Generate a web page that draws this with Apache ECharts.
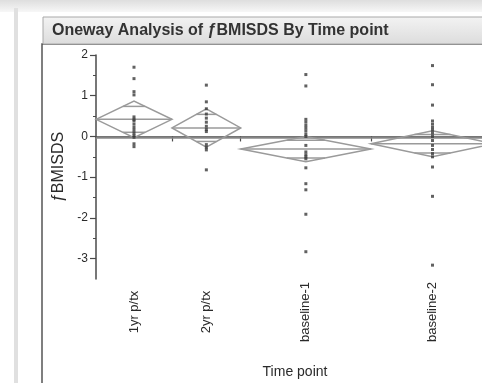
<!DOCTYPE html>
<html>
<head>
<meta charset="utf-8">
<script src="https://cdn.jsdelivr.net/npm/echarts@6/dist/echarts.min.js"></script>
<style>html,body{margin:0;padding:0;background:#fff;}#c{width:482px;height:383px;}</style>
</head>
<body>
<div id="c"></div>
<script>
// ---- data ----
const categories = ['1yr p/tx', '2yr p/tx', 'baseline-1', 'baseline-2'];
const groupN = [21, 19, 36, 34];                 // group widths (sample size scale)
const groupMeans = [0.42, 0.21, -0.31, -0.18];
const ciHalf = [0.45, 0.47, 0.31, 0.32];
const grandMean = -0.04;
const pts1yr = [1.70, 1.42, 1.10, 1.02, 0.48, 0.42, 0.38, 0.30, 0.22, 0.15, 0.08, 0.02, -0.02, -0.18, -0.25];
const pts2yr = [1.26, 0.85, 0.68, 0.55, 0.45, 0.35, 0.25, 0.17, 0.12, -0.20, -0.27, -0.33, -0.82];
const ptsBase1 = [1.52, 1.24, 0.42, 0.35, 0.27, 0.20, 0.13, 0.05, 0.0, -0.22, -0.38, -0.45, -0.50, -0.55, -0.77, -1.16, -1.31, -1.91, -2.83];
const ptsBase2 = [1.74, 1.27, 0.77, 0.38, 0.30, 0.22, 0.15, 0.08, 0.0, -0.10, -0.22, -0.32, -0.42, -0.50, -0.75, -1.47, -3.16];
const yTicks = [-3, -2, -1, 0, 1, 2];
const yMinorTicks = [-2.5, -1.5, -0.5, 0.5, 1.5];
const yRange = [-3.5, 2];

// ---- derived ----
const groupPoints = [pts1yr, pts2yr, ptsBase1, ptsBase2];
const bounds = [0];
groupN.forEach(n => bounds.push(bounds[bounds.length - 1] + n));
const centers = groupN.map((n, i) => bounds[i] + n / 2);
const totalN = bounds[bounds.length - 1];

const scatterData = [];
groupPoints.forEach((arr, i) => arr.forEach(v => scatterData.push([centers[i], v])));

const FONT = "'Liberation Sans', Arial, sans-serif";
const TXT = '#2a2a2a';
const AX = '#4a4a4a';
const DIA = '#9a9a9a';

const chart = echarts.init(document.getElementById('c'));
chart.setOption({
  animation: false,
  backgroundColor: '#ffffff',
  graphic: [
    { type: 'rect', z: -10, shape: { x: 0, y: 0, width: 482, height: 12 },
      style: { fill: new echarts.graphic.LinearGradient(0, 0, 0, 1, [{ offset: 0, color: '#dedede' }, { offset: 1, color: '#f7f7f7' }]) } },
    { type: 'rect', z: -10, shape: { x: 14, y: 8, width: 4, height: 380 }, style: { fill: '#e0e0e0' } },
    { type: 'rect', z: -9, shape: { x: 42, y: 44, width: 470, height: 360 },
      style: { fill: '#ffffff', stroke: '#555', lineWidth: 1.5 } },
    { type: 'rect', z: -8, shape: { x: 43, y: 17, width: 470, height: 27 },
      style: { fill: new echarts.graphic.LinearGradient(0, 0, 0, 1, [{ offset: 0, color: '#f3f3f3' }, { offset: 1, color: '#dcdcdc' }]), stroke: '#a8a8a8', lineWidth: 1 } },
    { type: 'text', z: -7, x: 52, y: 31,
      style: { text: 'Oneway Analysis of ƒBMISDS By Time point', fill: '#333', font: 'bold 16px ' + FONT, verticalAlign: 'middle' } }
  ],
  grid: { left: 96, right: -12, top: 55, bottom: 104, containLabel: false, outerBoundsMode: 'none' },
  xAxis: {
    type: 'value', min: 0, max: totalN,
    name: 'Time point', nameLocation: 'middle', nameGap: 86,
    nameTextStyle: { color: TXT, fontFamily: FONT, fontSize: 14 },
    axisLine: { show: true, lineStyle: { color: AX, width: 1.5 } },
    axisTick: { show: true, customValues: bounds.slice(1), length: 5, lineStyle: { color: AX, width: 1.2 } },
    axisLabel: {
      customValues: centers, rotate: 90, align: 'center', verticalAlign: 'middle', margin: 33,
      color: TXT, fontFamily: FONT, fontSize: 13,
      formatter: v => { const i = centers.findIndex(c => Math.abs(c - v) < 1e-6); return i >= 0 ? categories[i] : ''; }
    },
    splitLine: { show: false }
  },
  yAxis: [
    {
      type: 'value', min: yRange[0], max: yRange[1],
      name: 'ƒBMISDS', nameLocation: 'middle', nameGap: 25, nameRotate: 90,
      nameTextStyle: { color: TXT, fontFamily: FONT, fontSize: 16 },
      axisLine: { show: true, lineStyle: { color: AX, width: 1.5 } },
      axisTick: { show: true, customValues: yTicks, length: 6, lineStyle: { color: AX, width: 1.2 } },
      axisLabel: { customValues: yTicks, margin: 8, color: TXT, fontFamily: FONT, fontSize: 12 },
      splitLine: { show: false }
    },
    {
      type: 'value', min: yRange[0], max: yRange[1], position: 'left',
      axisLine: { show: false },
      axisTick: { show: true, customValues: yMinorTicks, length: 3, lineStyle: { color: AX, width: 1 } },
      axisLabel: { show: false },
      splitLine: { show: false }
    }
  ],
  series: [
    {
      type: 'line', yAxisIndex: 0, symbol: 'none', silent: true,
      data: [[0, grandMean], [totalN, grandMean]],
      lineStyle: { color: '#8a8a8a', width: 1.5 }, z: 2
    },
    {
      type: 'custom', yAxisIndex: 0, silent: true, z: 3,
      data: categories.map((c, i) => [i]),
      renderItem: (params, api) => {
        const i = api.value(0);
        const m = groupMeans[i], h = ciHalf[i];
        const L = api.coord([bounds[i], m]);
        const R = api.coord([bounds[i + 1], m]);
        const T = api.coord([centers[i], m + h]);
        const B = api.coord([centers[i], m - h]);
        const d = h / Math.SQRT2;
        const frac = 1 - d / h;
        const hw = (R[0] - L[0]) / 2 * frac;
        const cx = T[0];
        const yU = api.coord([centers[i], m + d])[1];
        const yD = api.coord([centers[i], m - d])[1];
        const st = { stroke: DIA, lineWidth: 1.5, fill: 'none' };
        return {
          type: 'group',
          children: [
            { type: 'polygon', shape: { points: [L, T, R, B] }, style: st },
            { type: 'line', shape: { x1: L[0], y1: L[1], x2: R[0], y2: R[1] }, style: st },
            { type: 'line', shape: { x1: cx - hw, y1: yU, x2: cx + hw, y2: yU }, style: st },
            { type: 'line', shape: { x1: cx - hw, y1: yD, x2: cx + hw, y2: yD }, style: st }
          ]
        };
      }
    },
    {
      type: 'scatter', yAxisIndex: 0, silent: true, z: 4,
      symbol: 'rect', symbolSize: 3,
      itemStyle: { color: '#3a3a3a' },
      data: scatterData
    }
  ]
});
</script>
</body>
</html>
